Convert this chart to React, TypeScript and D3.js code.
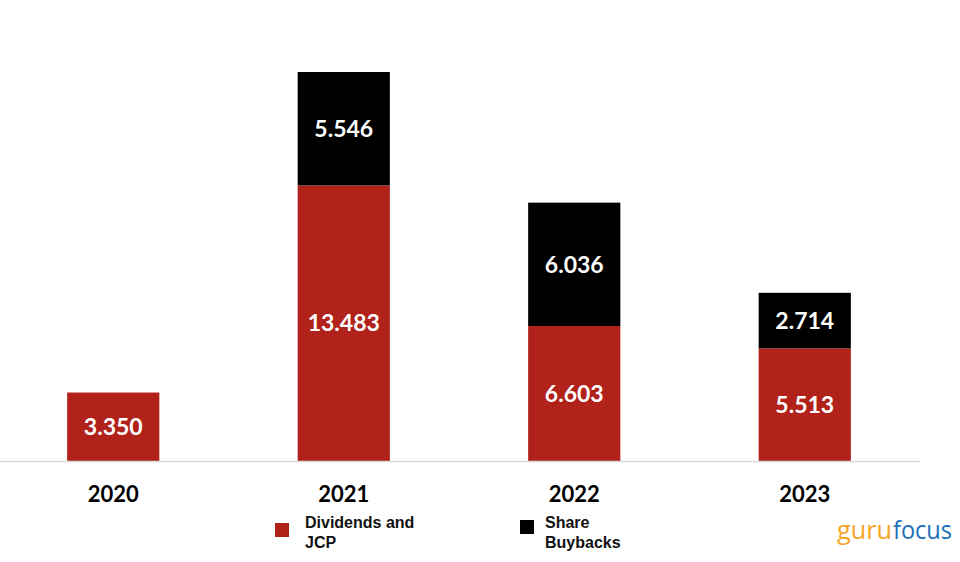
import React from "react";
import * as d3 from "d3";

const years = ["2020", "2021", "2022", "2023"];
const dividends = [3.35, 13.483, 6.603, 5.513];
const buybacks = [0, 5.546, 6.036, 2.714];
const seriesNames = ["Dividends and\nJCP", "Share\nBuybacks"];
const colors = ["#b0221a", "#000000"];

const W = 960;
const H = 562;
const baseY = 461;

export default function App() {
  const x = d3.scaleBand<string>().domain(years).range([-2, 920]).paddingInner(0.6).paddingOuter(0.3);
  const y = d3.scaleLinear().domain([0, 19.029]).range([baseY, 72]);
  const rows = years.map((yr, i) => ({ year: yr, Dividends: dividends[i], Buybacks: buybacks[i] }));
  const stack = d3.stack<any>().keys(["Dividends", "Buybacks"])(rows);
  const fmt = d3.format(".3f");

  return (
    <svg width={W} height={H} style={{ position: "absolute", left: 0, top: 0, background: "#fff" }}>
      <rect x={0} y={0} width={W} height={H} fill="#fff" />
      {stack.map((layer, li) => (
        <g key={li}>
          {layer.map((d, i) => {
            const v = d[1] - d[0];
            if (v <= 0) return null;
            const x0 = x(years[i])!;
            const top = y(d[1]);
            const bot = y(d[0]);
            return (
              <g key={i}>
                <rect x={x0} y={top} width={x.bandwidth()} height={bot - top} fill={colors[li]} />
                <text
                  x={x0 + x.bandwidth() / 2}
                  y={(top + bot) / 2}
                  dy="0.36em"
                  textAnchor="middle"
                  fill="#fff"
                  fontFamily="Lato, 'Open Sans', sans-serif"
                  fontWeight="bold"
                  fontSize={23}
                >
                  {fmt(v)}
                </text>
              </g>
            );
          })}
        </g>
      ))}
      <line x1={0} x2={920} y1={baseY + 0.5} y2={baseY + 0.5} stroke="#d9d9d9" strokeWidth={1.5} />
      {years.map((yr) => (
        <text
          key={yr}
          x={x(yr)! + x.bandwidth() / 2}
          y={494}
          dy="0.36em"
          textAnchor="middle"
          fontFamily="Lato, 'Open Sans', sans-serif"
          fontWeight="bold"
          fontSize={22}
          fill="#000"
        >
          {yr}
        </text>
      ))}
      {seriesNames.map((name, i) => {
        const lx = [275, 520][i];
        const lines = name.split("\n");
        return (
          <g key={i}>
            <rect x={lx} y={[523, 520][i]} width={14} height={14} fill={colors[i]} />
            {lines.map((ln, j) => (
              <text
                key={j}
                x={[305, 545][i]}
                y={528 + j * 20}
                fontFamily="'Liberation Sans', Arial, sans-serif"
                fontWeight="bold"
                fontSize={16}
                fill="#111"
              >
                {ln}
              </text>
            ))}
          </g>
        );
      })}
      <text x={837} y={539} fontFamily="'Open Sans', sans-serif" fontSize={26} fill="#f5a623"
        textLength={55} lengthAdjust="spacingAndGlyphs">guru</text>
      <text x={893} y={539} fontFamily="'Open Sans', sans-serif" fontSize={26} fill="#1d6fb8"
        textLength={59} lengthAdjust="spacingAndGlyphs">focus</text>
    </svg>
  );
}
